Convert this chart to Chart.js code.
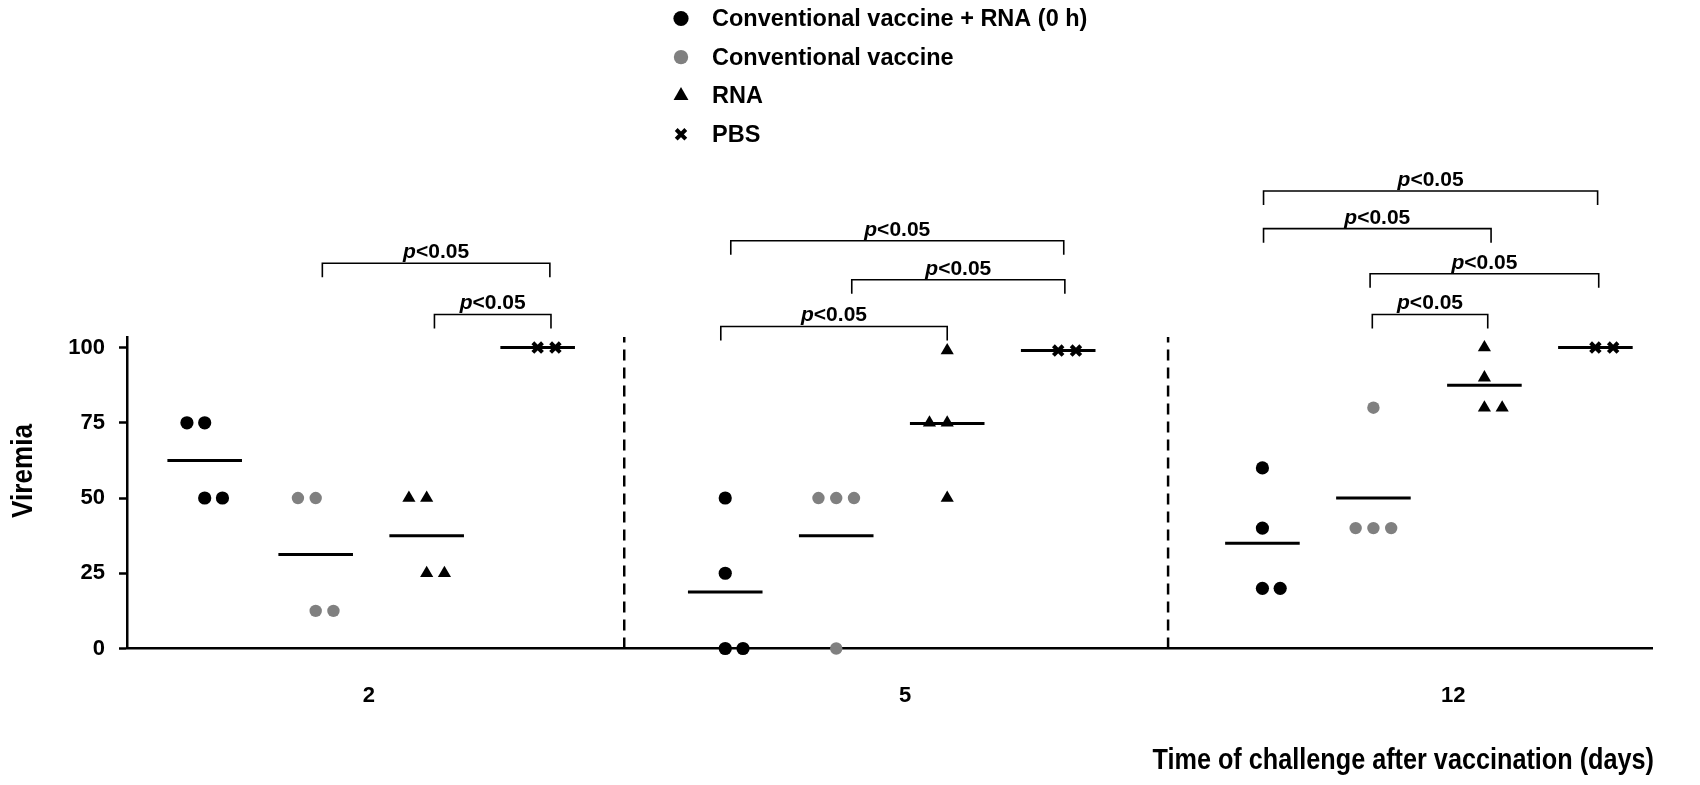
<!DOCTYPE html>
<html>
<head>
<meta charset="utf-8">
<script src="https://cdn.jsdelivr.net/npm/chart.js@4.4.1/dist/chart.umd.min.js"></script>
<style>
  html, body { margin: 0; padding: 0; background: #fff; }
</style>
</head>
<body>
<canvas id="chart" width="1700" height="785"></canvas>
<script>
//Days after vaccination at which the animals were challenged
const days = ["2", "5", "12"];
const groupNames = ["Conventional vaccine + RNA (0 h)", "Conventional vaccine", "RNA", "PBS"];
//Viremia per animal, one list per day
const vaccRna = [[75, 75, 50, 50], [50, 25, 0, 0], [60, 40, 20, 20]];
const vaccine = [[50, 50, 12.5, 12.5], [50, 50, 50, 0], [80, 40, 40, 40]];
const rna = [[50, 50, 25, 25], [99, 75, 75, 50], [100, 90, 80, 80]];
const pbs = [[100, 100], [99, 99], [100, 100]];
const yTicks = [0, 25, 50, 75, 100];
const xTitle = "Time of challenge after vaccination (days)";
const yTitle = "Viremia";
//Significance brackets: which day, between which two groups
const sigDay = [0, 0, 1, 1, 1, 2, 2, 2, 2];
const sigFrom = [1, 2, 0, 1, 0, 0, 0, 1, 1];
const sigTo = [3, 3, 3, 3, 2, 3, 2, 3, 2];
const sigText = ["p", "<0.05"];

//layout (x axis is in group slots)
const blockStart = [0.70, 5.39, 10.23];
const dayTickPos = [2.18, 7.01, 11.95];
const separatorPos = [4.48, 9.38];
const jitter = 0.16;
const meanHalf = 0.336;
const sigLevel = [128, 111, 135.5, 122.5, 107, 152, 139.5, 124.5, 111];
const sigNudgeFrom = [0.06, 0.07, 0.05, 0.14, -0.04, 0.01, 0.01, -0.03, -0.01];
const sigNudgeTo = [0.11, 0.12, 0.05, 0.06, 0.0, 0.02, 0.06, 0.03, 0.03];

const series = [vaccRna, vaccine, rna, pbs];
const pointStyles = ["circle", "circle", "triangle", "crossRot"];
const colors = ["#000000", "#808080", "#000000", "#000000"];
const radii = [6.6, 6.2, 7.6, 6.8];
const borders = [0, 0, 0, 4];
const sans = "'Liberation Sans', Arial, sans-serif";

const mean = (a) => a.reduce((s, v) => s + v, 0) / a.length;

//put tied values side by side, like the prism dot plot does
const spread = (vals) => {
  const m = mean(vals);
  return vals.map((v, i) => {
    const same = vals.map((w, j) => (w === v ? j : -1)).filter((j) => j >= 0);
    const k = same.indexOf(i);
    if (same.length === 1) return 0;
    if (same.length === 3) return k - 1;
    return v > m ? k - 1 : k;
  });
};

const datasets = [];
series.forEach((s, g) => {
  const pts = [];
  s.forEach((vals, d) => {
    const slots = spread(vals);
    vals.forEach((v, i) => {
      pts.push({ x: blockStart[d] + g + slots[i] * jitter, y: v });
    });
  });
  datasets.push({
    label: groupNames[g],
    data: pts,
    pointStyle: pointStyles[g],
    pointRadius: radii[g],
    pointBackgroundColor: colors[g],
    pointBorderColor: colors[g],
    pointBorderWidth: borders[g],
    clip: false,
  });
});
//mean lines
series.forEach((s, g) => {
  s.forEach((vals, d) => {
    const c = blockStart[d] + g;
    const m = mean(vals);
    datasets.push({
      label: "mean",
      data: [{ x: c - meanHalf, y: m }, { x: c + meanHalf, y: m }],
      showLine: true,
      pointRadius: 0,
      borderColor: "#000",
      borderWidth: 3,
      clip: false,
    });
  });
});
//dashed separators between days
separatorPos.forEach((p) => {
  datasets.push({
    label: "sep",
    data: [{ x: p, y: 0 }, { x: p, y: 103.5 }],
    showLine: true,
    pointRadius: 0,
    borderColor: "#000",
    borderWidth: 2.5,
    borderDash: [11, 7],
  });
});

//condensed bold text, the original uses arial narrow
const narrowText = (ctx, text, x, y, size, align, rot) => {
  ctx.save();
  ctx.translate(x, y);
  ctx.rotate(rot);
  ctx.scale(0.87, 1);
  ctx.font = "bold " + size + "px " + sans;
  ctx.fillStyle = "#000";
  ctx.textAlign = align;
  ctx.textBaseline = "middle";
  ctx.fillText(text, 0, 0);
  ctx.restore();
};

const extras = {
  id: "extras",
  afterDraw(chart) {
    const ctx = chart.ctx;
    const xs = chart.scales.x;
    const ys = chart.scales.y;
    ctx.save();
    //legend
    groupNames.forEach((name, g) => {
      const y = 18.5 + g * 38.6;
      ctx.fillStyle = colors[g];
      ctx.strokeStyle = colors[g];
      ctx.lineWidth = borders[g] || 1;
      Chart.helpers.drawPoint(ctx, {
        pointStyle: pointStyles[g],
        radius: g === 3 ? 6.8 : radii[g] + 1,
        borderWidth: borders[g],
        rotation: 0,
      }, 681, y);
      ctx.fillStyle = "#000";
      ctx.font = "bold 23.5px " + sans;
      ctx.textAlign = "left";
      ctx.textBaseline = "middle";
      ctx.fillText(name, 712, y + 1);
    });
    //brackets
    ctx.strokeStyle = "#000";
    ctx.lineWidth = 1.6;
    sigDay.forEach((d, i) => {
      const x1 = xs.getPixelForValue(blockStart[d] + sigFrom[i] + sigNudgeFrom[i]);
      const x2 = xs.getPixelForValue(blockStart[d] + sigTo[i] + sigNudgeTo[i]);
      const y = ys.getPixelForValue(sigLevel[i]);
      ctx.beginPath();
      ctx.moveTo(x1, y + 14);
      ctx.lineTo(x1, y);
      ctx.lineTo(x2, y);
      ctx.lineTo(x2, y + 14);
      ctx.stroke();
      ctx.fillStyle = "#000";
      ctx.textBaseline = "alphabetic";
      ctx.textAlign = "left";
      ctx.font = "italic bold 21px " + sans;
      const w1 = ctx.measureText(sigText[0]).width;
      ctx.font = "bold 21px " + sans;
      const w2 = ctx.measureText(sigText[1]).width;
      const sx = (x1 + x2) / 2 - (w1 + w2) / 2;
      ctx.font = "italic bold 21px " + sans;
      ctx.fillText(sigText[0], sx, y - 5);
      ctx.font = "bold 21px " + sans;
      ctx.fillText(sigText[1], sx + w1, y - 5);
    });
    ctx.restore();
    //axis titles
    narrowText(ctx, yTitle, 24, 471, 30, "center", -Math.PI / 2);
    narrowText(ctx, xTitle, 1654, 761, 29, "right", 0);
  },
};

new Chart(document.getElementById("chart"), {
  type: "scatter",
  data: { datasets: datasets },
  plugins: [extras],
  options: {
    responsive: false,
    animation: false,
    devicePixelRatio: 1,
    layout: { padding: { top: 337, right: 48, left: 0, bottom: 0 } },
    plugins: { legend: { display: false }, tooltip: { enabled: false } },
    scales: {
      x: {
        type: "linear",
        min: 0,
        max: 13.74,
        afterBuildTicks: (s) => { s.ticks = dayTickPos.map((v) => ({ value: v })); },
        afterFit: (s) => { s.height = 136.5; },
        ticks: {
          callback: (v, i) => days[i],
          autoSkip: false,
          maxRotation: 0,
          color: "#000",
          padding: 34,
          font: { family: sans, size: 22, weight: "bold" },
        },
        grid: { display: false, drawTicks: false },
        border: { color: "#000", width: 2.5 },
      },
      y: {
        min: 0,
        max: 103.5,
        afterBuildTicks: (s) => { s.ticks = yTicks.map((v) => ({ value: v })); },
        afterFit: (s) => { s.width = 127; },
        ticks: {
          color: "#000",
          padding: 14,
          font: { family: sans, size: 22, weight: "bold" },
        },
        grid: { drawOnChartArea: false, drawTicks: true, tickLength: 8, tickWidth: 2.5, tickColor: "#000" },
        border: { color: "#000", width: 2.5 },
      },
    },
  },
});
</script>
</body>
</html>
